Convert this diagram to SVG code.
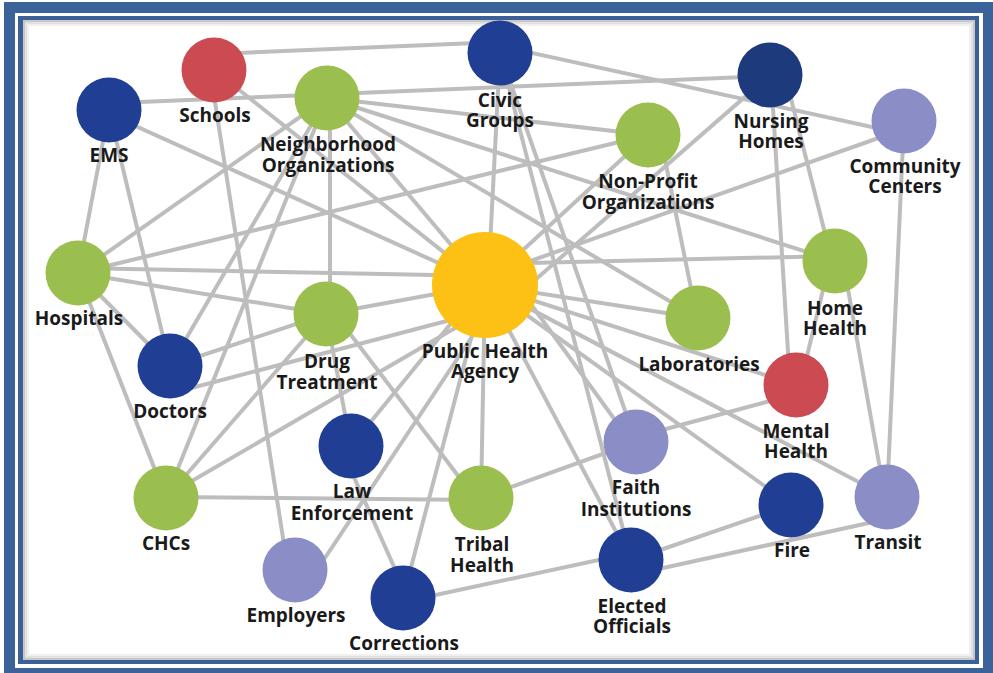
<svg xmlns="http://www.w3.org/2000/svg" width="993" height="673" viewBox="0 0 993 673">
<style>
.e{stroke:#bdbdbd;stroke-width:4;fill:none;stroke-linecap:butt}
.lbl{font-family:"Open Sans","Liberation Sans",sans-serif;font-weight:700;font-size:19px;fill:#1a1a1a;text-anchor:middle}
.blue{fill:#1f3e94}
.dblue{fill:#1d3a7c}
.red{fill:#cc4a52}
.green{fill:#9bbf4f}
.lav{fill:#8b8dc6}
.yel{fill:#fdc015}
</style>
<g id="frame">
<rect x="0" y="0" width="993" height="673" fill="#ffffff"/>
<rect x="4" y="2" width="989" height="671" fill="#3b639a"/>
<rect x="15" y="13" width="968" height="655" fill="#ffffff"/>
<rect x="18" y="16" width="961" height="648" fill="#3a6097"/>
<rect x="23" y="20" width="952" height="640" fill="#ffffff"/>
<rect x="24" y="21" width="950" height="638" fill="none" stroke="#9a9a9a" stroke-width="2" opacity="0.55"/>
<rect x="26" y="23" width="946" height="634" fill="none" stroke="#b5b5b5" stroke-width="2" opacity="0.4"/>
<rect x="28" y="25" width="942" height="630" fill="none" stroke="#d5d5d5" stroke-width="2" opacity="0.35"/>
</g>
<g id="connectors">
<line class="e" x1="214" y1="54" x2="500" y2="42"/>
<line class="e" x1="115" y1="103" x2="770" y2="76"/>
<line class="e" x1="214" y1="70" x2="485" y2="285"/>
<line class="e" x1="210" y1="70" x2="288" y2="570"/>
<line class="e" x1="109" y1="114" x2="485" y2="284"/>
<line class="e" x1="109" y1="110" x2="78" y2="273"/>
<line class="e" x1="109" y1="110" x2="170" y2="366"/>
<line class="e" x1="327" y1="98" x2="78" y2="273"/>
<line class="e" x1="327" y1="98" x2="170" y2="366"/>
<line class="e" x1="327" y1="98" x2="166" y2="498"/>
<line class="e" x1="330" y1="98" x2="330" y2="314"/>
<line class="e" x1="327" y1="98" x2="485" y2="285"/>
<line class="e" x1="327" y1="98" x2="648" y2="135"/>
<line class="e" x1="327" y1="98" x2="835" y2="261"/>
<line class="e" x1="327" y1="98" x2="698" y2="318"/>
<line class="e" x1="500" y1="53" x2="488" y2="285"/>
<line class="e" x1="500" y1="53" x2="636" y2="442"/>
<line class="e" x1="500" y1="53" x2="631" y2="560"/>
<line class="e" x1="500" y1="46" x2="904" y2="134"/>
<line class="e" x1="770" y1="75" x2="535" y2="280"/>
<line class="e" x1="771" y1="75" x2="790" y2="385"/>
<line class="e" x1="785" y1="75" x2="832" y2="261"/>
<line class="e" x1="904" y1="129" x2="485" y2="277"/>
<line class="e" x1="904" y1="121" x2="887" y2="497"/>
<line class="e" x1="648" y1="135" x2="78" y2="273"/>
<line class="e" x1="648" y1="135" x2="485" y2="285"/>
<line class="e" x1="660" y1="135" x2="697" y2="318"/>
<line class="e" x1="78" y1="268" x2="485" y2="276"/>
<line class="e" x1="78" y1="273" x2="326" y2="314"/>
<line class="e" x1="78" y1="273" x2="170" y2="366"/>
<line class="e" x1="78" y1="273" x2="166" y2="498"/>
<line class="e" x1="326" y1="314" x2="170" y2="366"/>
<line class="e" x1="326" y1="314" x2="485" y2="285"/>
<line class="e" x1="326" y1="314" x2="166" y2="498"/>
<line class="e" x1="326" y1="314" x2="351" y2="446"/>
<line class="e" x1="335" y1="314" x2="475" y2="498"/>
<line class="e" x1="180" y1="391" x2="458" y2="318"/>
<line class="e" x1="166" y1="496" x2="462" y2="324"/>
<line class="e" x1="166" y1="497" x2="481" y2="500"/>
<line class="e" x1="351" y1="446" x2="470" y2="300"/>
<line class="e" x1="307" y1="585" x2="503" y2="290"/>
<line class="e" x1="340" y1="446" x2="408" y2="598"/>
<line class="e" x1="403" y1="598" x2="485" y2="285"/>
<line class="e" x1="403" y1="602" x2="631" y2="553"/>
<line class="e" x1="481" y1="498" x2="485" y2="285"/>
<line class="e" x1="481" y1="498" x2="636" y2="442"/>
<line class="e" x1="636" y1="437" x2="796" y2="394"/>
<line class="e" x1="517" y1="285" x2="631" y2="442"/>
<line class="e" x1="485" y1="285" x2="631" y2="560"/>
<line class="e" x1="485" y1="285" x2="791" y2="505"/>
<line class="e" x1="485" y1="285" x2="887" y2="497"/>
<line class="e" x1="485" y1="285" x2="796" y2="385"/>
<line class="e" x1="485" y1="285" x2="698" y2="318"/>
<line class="e" x1="485" y1="264" x2="835" y2="256"/>
<line class="e" x1="791" y1="505" x2="631" y2="560"/>
<line class="e" x1="631" y1="575" x2="887" y2="519"/>
<line class="e" x1="843" y1="261" x2="885" y2="497"/>
<line class="e" x1="830" y1="261" x2="800" y2="385"/>
</g>
<g id="schools"><circle class="red" cx="214" cy="70" r="32.5"/><text class="lbl" x="215" y="122">Schools</text></g>
<g id="ems"><circle class="blue" cx="109" cy="110" r="32.5"/><text class="lbl" x="109" y="162">EMS</text></g>
<g id="neighborhood"><circle class="green" cx="327" cy="98" r="32.5"/><text class="lbl" x="328" y="151">Neighborhood<tspan x="328" dy="21">Organizations</tspan></text></g>
<g id="civic"><circle class="blue" cx="500" cy="53" r="32.5"/><text class="lbl" x="500" y="107">Civic<tspan x="500" dy="20">Groups</tspan></text></g>
<g id="nursing"><circle class="dblue" cx="770" cy="75" r="32.5"/><text class="lbl" x="771" y="128">Nursing<tspan x="771" dy="20">Homes</tspan></text></g>
<g id="community"><circle class="lav" cx="904" cy="121" r="32.5"/><text class="lbl" x="905" y="173">Community<tspan x="905" dy="20">Centers</tspan></text></g>
<g id="nonprofit"><circle class="green" cx="648" cy="135" r="32.5"/><text class="lbl" x="648" y="188">Non-Profit<tspan x="648" dy="21">Organizations</tspan></text></g>
<g id="hospitals"><circle class="green" cx="78" cy="273" r="32.5"/><text class="lbl" x="79" y="325">Hospitals</text></g>
<g id="pha"><circle class="yel" cx="485" cy="285" r="53"/><text class="lbl" x="485" y="358">Public Health<tspan x="485" dy="20">Agency</tspan></text></g>
<g id="drug"><circle class="green" cx="326" cy="314" r="32.5"/><text class="lbl" x="327" y="368">Drug<tspan x="327" dy="21">Treatment</tspan></text></g>
<g id="homehealth"><circle class="green" cx="835" cy="261" r="32.5"/><text class="lbl" x="835" y="315">Home<tspan x="835" dy="20">Health</tspan></text></g>
<g id="labs"><circle class="green" cx="698" cy="318" r="32.5"/><text class="lbl" x="699" y="371">Laboratories</text></g>
<g id="doctors"><circle class="blue" cx="170" cy="366" r="32.5"/><text class="lbl" x="170" y="418">Doctors</text></g>
<g id="mental"><circle class="red" cx="796" cy="385" r="32.5"/><text class="lbl" x="796" y="438">Mental<tspan x="796" dy="20">Health</tspan></text></g>
<g id="law"><circle class="blue" cx="351" cy="446" r="32.5"/><text class="lbl" x="352" y="498">Law<tspan x="352" dy="22">Enforcement</tspan></text></g>
<g id="faith"><circle class="lav" cx="636" cy="442" r="32.5"/><text class="lbl" x="636" y="494">Faith<tspan x="636" dy="22">Institutions</tspan></text></g>
<g id="chcs"><circle class="green" cx="166" cy="498" r="32.5"/><text class="lbl" x="166" y="550">CHCs</text></g>
<g id="tribal"><circle class="green" cx="481" cy="498" r="32.5"/><text class="lbl" x="482" y="551">Tribal<tspan x="482" dy="21">Health</tspan></text></g>
<g id="fire"><circle class="blue" cx="791" cy="505" r="32.5"/><text class="lbl" x="792" y="557">Fire</text></g>
<g id="transit"><circle class="lav" cx="887" cy="497" r="32.5"/><text class="lbl" x="888" y="549">Transit</text></g>
<g id="employers"><circle class="lav" cx="295" cy="570" r="32.5"/><text class="lbl" x="296" y="622">Employers</text></g>
<g id="elected"><circle class="blue" cx="631" cy="560" r="32.5"/><text class="lbl" x="632" y="613">Elected<tspan x="632" dy="20">Officials</tspan></text></g>
<g id="corrections"><circle class="blue" cx="403" cy="598" r="32.5"/><text class="lbl" x="404" y="650">Corrections</text></g>
</svg>
